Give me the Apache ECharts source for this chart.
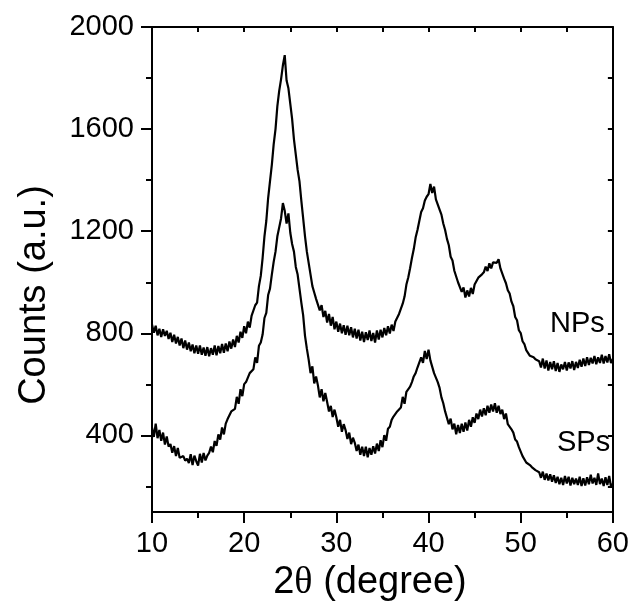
<!DOCTYPE html>
<html>
<head>
<meta charset="utf-8">
<script src="https://cdn.jsdelivr.net/npm/echarts@6.0.0/dist/echarts.min.js"></script>
<style>
html,body{margin:0;padding:0;background:#fff;}
#chart{width:632px;height:603px;}
</style>
</head>
<body>
<div id="chart"></div>
<script>
// scan grid: 10.0 .. 60.0 degrees, step 0.2
const startAngle = 10;
const stepAngle = 0.2;

const npsCounts = [
835,802,830,792,818, 786,816,790,810,778, 802,766,794,760,786, 752,780,742,772,736,
764,730,756,722,752, 720,752,716,744,712, 746,710,742,716,752, 714,750,722,758,724,
760,730,768,740,776, 746,790,764,806,782, 828,800,846,822,868, 870,910,920,985,1025,
1095,1180,1240,1330,1395, 1460,1540,1600,1690,1750, 1795,1850,1890,1790,1760,
1700,1640,1560,1500,1440, 1395,1320,1250,1180,1120, 1075,1030,985,960,935,
930,890,910,864,888, 842,876,830,864,816, 846,806,838,800,832, 794,830,792,824,784,
818,780,814,772,806, 766,804,774,811,770, 801,764,811,776,814, 784,821,792,828,799,
834,809,846,846,876, 879,916,944,991,1019, 1055,1095,1130,1175,1205, 1240,1275,1290,1320,1335,
1345,1385,1350,1375,1325, 1320,1285,1265,1230,1205, 1170,1145,1100,1085,1045,
1045,1000,995,962,980, 940,968,944,978,954, 991,994,1018,1024,1031, 1039,1061,1044,1074,1054,
1078,1079,1076,1090,1054, 1051,1014,996,969,956, 924,906,864,851,812, 801,769,758,734,734,
712,711,706,698,696, 691,666,701,662,694, 654,688,659,691,652, 684,649,678,659,688,
654,686,662,691,656, 688,664,696,669,701, 672,706,676,704,682, 711,679,706,684,716,
682,711,686,718,684, 700
];

const spsCounts = [
431,394,446,389,421, 379,411,364,396,356, 366,332,358,319,351, 312,306,319,301,309,
292,326,284,321,299, 282,328,294,331,302, 321,332,356,334,378, 359,404,384,431,404,
446,464,461,494,491, 504,551,524,581,554, 601,609,606,644,646, 659,706,684,751,764,
795,860,880,950,975, 1030,1080,1120,1180,1215, 1250,1310,1280,1230,1270,
1195,1150,1120,1060,1030, 975,920,870,790,740, 696,644,671,604,631,
596,549,581,534,566, 531,494,516,472,501, 471,434,461,414,444, 421,386,411,366,391,
371,339,364,324,356, 319,356,314,351,324, 358,329,368,339,381, 354,401,379,426,434,
461,474,476,494,496, 509,551,524,571,569, 591,609,631,644,666, 669,706,684,731,699,
736,694,691,644,646, 609,586,549,526,494, 491,444,466,424,446, 404,441,409,446,414,
451,419,461,434,471, 449,486,464,501,474, 506,479,516,489,521, 494,526,489,516,484,
501,464,486,444,446, 424,411,384,376,354, 351,319,321,294,301, 284,276,274,264,262,
256,234,258,226,251, 224,248,219,244,214, 238,209,234,206,241, 212,238,204,234,209,
231,206,238,202,232, 204,236,209,246,212, 234,206,251,209,231, 202,236,206,241,199,
210
];

const yLabelTicks = [400, 800, 1200, 1600, 2000];
const yMinorTicks = [200, 600, 1000, 1400, 1800];
const yAllTicks = [200, 400, 600, 800, 1000, 1200, 1400, 1600, 1800, 2000];
const seriesNames = ['NPs', 'SPs'];

function toPairs(arr) {
  return arr.map((v, i) => [+(startAngle + i * stepAngle).toFixed(2), v]);
}

const FONT = '"Liberation Sans", Arial, sans-serif';
const chart = echarts.init(document.getElementById('chart'), null, {renderer: 'canvas'});

const axisLine = {show: true, lineStyle: {color: '#000', width: 2}};
const plain = v => String(v);

chart.setOption({
  backgroundColor: '#fff',
  animation: false,
  grid: {left: 152, right: 19, top: 27, bottom: 91, containLabel: false},
  xAxis: [
    {
      type: 'value', min: 10, max: 60, interval: 10, position: 'bottom',
      axisLine: axisLine,
      axisTick: {show: true, length: 11, lineStyle: {color: '#000', width: 2}},
      minorTick: {show: true, splitNumber: 2, length: 6, lineStyle: {color: '#000', width: 2}},
      axisLabel: {color: '#000', fontSize: 29, fontFamily: FONT, margin: 17, formatter: plain},
      splitLine: {show: false}
    },
    {
      type: 'value', min: 10, max: 60, interval: 10, position: 'top',
      axisLine: axisLine,
      axisTick: {show: true, inside: true, length: 5, lineStyle: {color: '#000', width: 2}},
      minorTick: {show: true, splitNumber: 2, length: 5, lineStyle: {color: '#000', width: 2}},
      axisLabel: {show: false},
      splitLine: {show: false}
    }
  ],
  yAxis: [
    {
      type: 'value', min: 100, max: 2000, position: 'left',
      axisLine: axisLine,
      axisTick: {show: true, length: 11, customValues: yLabelTicks, lineStyle: {color: '#000', width: 2}},
      axisLabel: {color: '#000', fontSize: 29, fontFamily: FONT, margin: 18, customValues: yLabelTicks, formatter: plain},
      splitLine: {show: false}
    },
    {
      type: 'value', min: 100, max: 2000, position: 'left',
      axisLine: {show: false},
      axisTick: {show: true, length: 6, customValues: yMinorTicks, lineStyle: {color: '#000', width: 2}},
      axisLabel: {show: false},
      splitLine: {show: false}
    },
    {
      type: 'value', min: 100, max: 2000, position: 'right',
      axisLine: axisLine,
      axisTick: {show: true, inside: true, length: 5, customValues: yAllTicks, lineStyle: {color: '#000', width: 2}},
      axisLabel: {show: false},
      splitLine: {show: false}
    }
  ],
  series: [
    {
      name: seriesNames[0], type: 'line', xAxisIndex: 0, yAxisIndex: 0,
      data: toPairs(npsCounts), showSymbol: false, symbol: 'none',
      lineStyle: {color: '#000', width: 2.2}, z: 3
    },
    {
      name: seriesNames[1], type: 'line', xAxisIndex: 0, yAxisIndex: 0,
      data: toPairs(spsCounts), showSymbol: false, symbol: 'none',
      lineStyle: {color: '#000', width: 2.2}, z: 3
    }
  ],
  graphic: [
    {type: 'text', left: 550, top: 309, style: {text: seriesNames[0], fill: '#000', font: '29px ' + FONT}},
    {type: 'text', left: 557, top: 428, style: {text: seriesNames[1], fill: '#000', font: '29px ' + FONT}},
    {type: 'text', x: 370, y: 583,
      style: {
        text: '2{t|θ} (degree)', fill: '#000', font: '38px ' + FONT, align: 'center', verticalAlign: 'middle',
        rich: {t: {fontFamily: '"Liberation Serif", serif', fontSize: 38, fill: '#000'}}
      }},
    {type: 'text', x: 35, y: 295, rotation: Math.PI / 2,
      style: {text: 'Counts (a.u.)', fill: '#000', font: '38px ' + FONT, align: 'center', verticalAlign: 'middle'}}
  ]
});
</script>
</body>
</html>
